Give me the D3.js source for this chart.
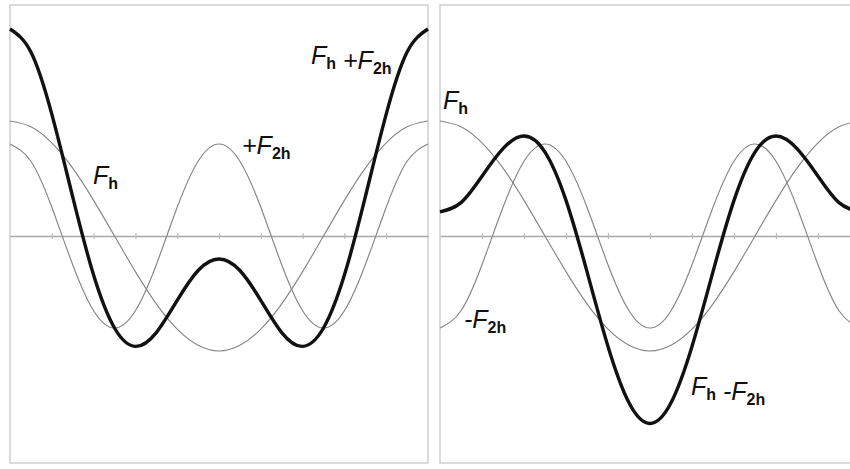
<!DOCTYPE html>
<html>
<head>
<meta charset="utf-8">
<script src="https://cdn.jsdelivr.net/npm/d3@7/dist/d3.min.js"></script>
<style>
  html, body { margin: 0; padding: 0; background: #fff; }
  svg { display: block; }
  .lbl { font-family: "Liberation Sans", Arial, sans-serif; fill: #111; }
</style>
</head>
<body>
<svg id="chart" width="850" height="469"></svg>
<script>
// Phase positions, in tick steps along one period (10 steps = one period)
const phase = [0, 0.5, 1, 1.5, 2, 2.5, 3, 3.5, 4, 4.5, 5, 5.5, 6, 6.5, 7, 7.5, 8, 8.5, 9, 9.5, 10];
const tickSteps = [1, 2, 3, 4, 5, 6, 7, 8, 9];

// Left panel: first and second harmonic, and their sum
const fh      = [1.00, 0.95, 0.81, 0.59, 0.31, 0.00, -0.31, -0.59, -0.81, -0.95, -1.00, -0.95, -0.81, -0.59, -0.31, 0.00, 0.31, 0.59, 0.81, 0.95, 1.00];
const f2h     = [0.80, 0.65, 0.25, -0.25, -0.65, -0.80, -0.65, -0.25, 0.25, 0.65, 0.80, 0.65, 0.25, -0.25, -0.65, -0.80, -0.65, -0.25, 0.25, 0.65, 0.80];
const sumPlus = [1.80, 1.60, 1.06, 0.34, -0.34, -0.80, -0.96, -0.84, -0.56, -0.30, -0.20, -0.30, -0.56, -0.84, -0.96, -0.80, -0.34, 0.34, 1.06, 1.60, 1.80];

// Right panel: first harmonic, inverted second harmonic, and their difference
const fhR      = [1.00, 0.95, 0.81, 0.59, 0.31, 0.00, -0.31, -0.59, -0.81, -0.95, -1.00, -0.95, -0.81, -0.59, -0.31, 0.00, 0.31, 0.59, 0.81, 0.95, 1.00];
const negF2h   = [-0.80, -0.65, -0.25, 0.25, 0.65, 0.80, 0.65, 0.25, -0.25, -0.65, -0.80, -0.65, -0.25, 0.25, 0.65, 0.80, 0.65, 0.25, -0.25, -0.65, -0.80];
const sumMinus = [0.21, 0.29, 0.52, 0.76, 0.87, 0.73, 0.31, -0.31, -0.96, -1.45, -1.63, -1.45, -0.96, -0.31, 0.31, 0.73, 0.87, 0.76, 0.52, 0.29, 0.21];

const svg = d3.select("#chart");

const y = d3.scaleLinear().domain([-2, 2]).range([466, 6]);

const panels = [
  {
    x0: 10, x1: 428,
    thin: [fh, f2h], thick: sumPlus,
    labels: [
      { x: 93,  y: 184, parts: [["F", "h"]] },
      { x: 242, y: 154, parts: [["+F", "2h"]] },
      { x: 311, y: 64,  parts: [["F", "h"], [" +F", "2h"]] }
    ]
  },
  {
    x0: 440, x1: 860,
    thin: [fhR, negF2h], thick: sumMinus,
    labels: [
      { x: 443, y: 109, parts: [["F", "h"]] },
      { x: 464, y: 328, parts: [["-F", "2h"]] },
      { x: 691, y: 395, parts: [["F", "h"], [" -F", "2h"]] }
    ]
  }
];

const frameTop = 5, frameBottom = 463;

panels.forEach(p => {
  const x = d3.scaleLinear().domain([0, 10]).range([p.x0, p.x1]);
  const g = svg.append("g");

  // panel frame
  g.append("rect")
    .attr("x", p.x0).attr("y", frameTop)
    .attr("width", p.x1 - p.x0).attr("height", frameBottom - frameTop)
    .attr("fill", "none").attr("stroke", "#d2d2d2").attr("stroke-width", 1.6);

  // zero axis with small ticks
  const axis = d3.axisBottom(x).tickValues(tickSteps).tickSize(0).tickFormat("");
  const ax = g.append("g").attr("transform", `translate(0,${y(0)})`).call(axis);
  ax.select(".domain").attr("stroke", "#a8a8a8").attr("stroke-width", 1.5);
  ax.selectAll(".tick line")
    .attr("y1", -3).attr("y2", 3)
    .attr("stroke", "#bbbbbb").attr("stroke-width", 1.2);

  const line = d3.line()
    .x((d, i) => x(phase[i]))
    .y(d => y(d))
    .curve(d3.curveNatural);

  p.thin.forEach(series => {
    g.append("path").datum(series)
      .attr("d", line)
      .attr("fill", "none").attr("stroke", "#858585").attr("stroke-width", 1.15);
  });

  g.append("path").datum(p.thick)
    .attr("d", line)
    .attr("fill", "none").attr("stroke", "#111").attr("stroke-width", 3.4)
    .attr("stroke-linejoin", "round");

  p.labels.forEach(l => {
    const t = g.append("text").attr("class", "lbl").attr("x", l.x).attr("y", l.y);
    l.parts.forEach(([main, sub]) => {
      t.append("tspan").attr("font-size", 25).attr("font-style", "italic").text(main);
      t.append("tspan").attr("font-size", 16).attr("font-weight", "bold").attr("dy", 5).text(sub);
      // back to the main baseline for the next part
      t.append("tspan").attr("font-size", 25).attr("dy", -5).text("");
    });
  });
});
</script>
</body>
</html>
